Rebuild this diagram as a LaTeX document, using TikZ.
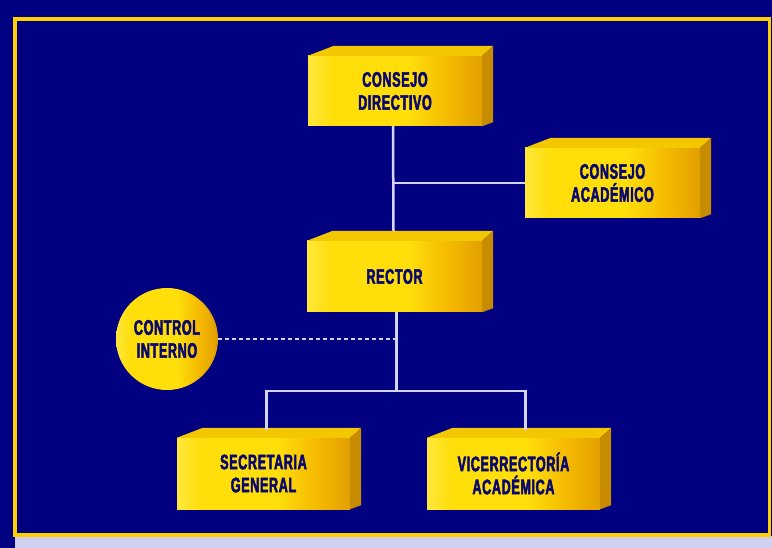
\documentclass[tikz,border=0pt]{standalone}
\usepackage{fontspec}
\newfontfamily\boxfont[FakeStretch=0.6,FakeBold=2.4,LetterSpace=3]{Liberation Sans Bold}
\definecolor{navybg}{RGB}{0,0,128}
\definecolor{lavend}{RGB}{208,208,240}
\definecolor{bordery}{RGB}{255,208,0}
\definecolor{ylight}{RGB}{255,232,60}
\definecolor{ymain}{RGB}{255,222,10}
\definecolor{orng}{RGB}{244,184,0}
\definecolor{orngd}{RGB}{226,160,0}
\definecolor{topf}{RGB}{244,200,0}
\definecolor{sidef}{RGB}{200,140,0}
\definecolor{txt}{RGB}{8,8,112}
\definecolor{linec}{RGB}{212,212,240}
\pgfdeclarehorizontalshading{boxfront}{100bp}{color(0bp)=(ylight); color(25bp)=(ylight); color(32bp)=(ymain); color(54bp)=(ymain); color(66bp)=(orng); color(75bp)=(orngd); color(100bp)=(orngd)}
\pgfdeclarehorizontalshading{ballshade}{100bp}{color(0bp)=(ylight); color(25bp)=(ylight); color(32bp)=(ymain); color(55bp)=(ymain); color(66bp)=(orng); color(75bp)=(orngd); color(100bp)=(orngd)}
\tikzset{
  frontbox/.style={shading=boxfront, minimum width=174pt, minimum height=70pt,
    inner sep=0pt, align=center, font=\boxfont\fontsize{21}{23}\selectfont, text=txt},
  ballnode/.style={circle, shading=ballshade, minimum size=102pt, inner sep=0pt,
    align=center, font=\boxfont\fontsize{21}{23}\selectfont, text=txt},
  conn/.style={draw=linec, line width=2.5pt},
  dotconn/.style={draw=linec, line width=2.5pt, dash pattern=on 4pt off 3pt},
}
\newcommand{\threedfaces}[1]{%
  \fill[topf] (#1.north west) -- ([shift={(26,-10)}]#1.north west) -- ([shift={(11,-10)}]#1.north east) -- (#1.north east) -- cycle;
  \fill[sidef] (#1.north east) -- ([shift={(11,-10)}]#1.north east) -- ([shift={(11,-4)}]#1.south east) -- (#1.south east) -- cycle;
}
\begin{document}
\begin{tikzpicture}[x=1pt,y=-1pt]
\useasboundingbox (0,0) rectangle (772,548);
\fill[navybg] (0,0) rectangle (772,548);
\fill[lavend] (15,536) rectangle (772,548);
\draw[bordery, line width=3.5pt] (15,19) rectangle (769.5,535);

\node[frontbox] (cd) at (395,91) {CONSEJO\\DIRECTIVO};
\node[frontbox, minimum width=175pt] (ca) at (612.5,183) {CONSEJO\\ACADÉMICO};
\node[frontbox, minimum width=175pt, minimum height=71pt] (re) at (394.5,276.5) {RECTOR};
\node[frontbox, minimum width=173pt, minimum height=71pt] (sg) at (263.5,473.5) {SECRETARIA\\GENERAL};
\node[frontbox, minimum width=173pt, minimum height=71pt] (va) at (513.5,473.5) {VICERRECTORÍA\\ACADÉMICA};
\node[ballnode] (ci) at (167,339) {CONTROL\\INTERNO};
\fill[orngd!70!sidef] ([xshift=-1pt]ci.east) arc[start angle=0, end angle=60, radius=50pt] arc[start angle=60, end angle=0, radius=48pt] -- cycle;
\fill[orngd!70!sidef] ([xshift=-1pt]ci.east) arc[start angle=0, end angle=-60, radius=50pt] arc[start angle=-60, end angle=0, radius=48pt] -- cycle;

\threedfaces{cd}
\threedfaces{ca}
\threedfaces{re}
\threedfaces{sg}
\threedfaces{va}

\coordinate (ret) at ([xshift=-1pt,yshift=10pt]re.north);
\coordinate (j) at ([xshift=2pt]re.south |- 0,391);
\coordinate (sgt) at ([xshift=3pt,yshift=8pt]sg.north);
\coordinate (vat) at ([xshift=12pt,yshift=8pt]va.north);

\draw[conn] ([xshift=-2pt]cd.south) -- (ret);
\draw[conn] ([xshift=-2pt]cd.south |- ca.west) -- (ca.west);
\draw[conn] ([xshift=2pt]re.south) -- (j);
\draw[dotconn] (ci.east) -- (ci.east -| j);
\draw[conn] (sgt) |- (j) -| (vat);
\end{tikzpicture}
\end{document}
